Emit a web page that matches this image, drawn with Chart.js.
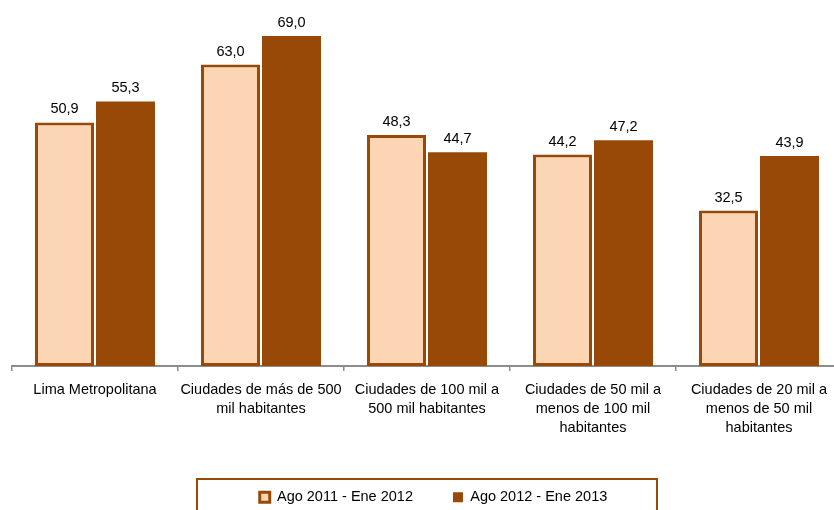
<!DOCTYPE html>
<html>
<head>
<meta charset="utf-8">
<script src="https://cdn.jsdelivr.net/npm/chart.js@4"></script>
<style>
html,body{margin:0;padding:0;background:#fff;overflow:hidden;width:834px;height:510px;}
#wrap{position:absolute;left:0;top:0;width:850px;height:540px;}
</style>
</head>
<body>
<div id="wrap"><canvas id="c" width="850" height="540"></canvas></div>
<script>
const categories = [
  "Lima Metropolitana",
  ["Ciudades de más de 500", "mil habitantes"],
  ["Ciudades de 100 mil a", "500 mil habitantes"],
  ["Ciudades de 50 mil a", "menos de 100 mil", "habitantes"],
  ["Ciudades de 20 mil a", "menos de 50 mil", "habitantes"]
];
const seriesNames = ["Ago 2011 - Ene 2012", "Ago 2012 - Ene 2013"];
const values2011 = [50.9, 63.0, 48.3, 44.2, 32.5];
const values2012 = [55.3, 69.0, 44.7, 47.2, 43.9];

const FONT = "'Liberation Sans', Arial, sans-serif";
const FSIZE = 14.5;
const BROWN = '#984807';
const PEACH = '#FCD5B5';
const AXIS = '#8c8c8c';

const dataLabels = {
  id: 'dataLabels',
  afterDatasetsDraw(chart) {
    const ctx = chart.ctx;
    ctx.save();
    ctx.font = FSIZE + "px " + FONT;
    ctx.fillStyle = '#000';
    ctx.textAlign = 'center';
    ctx.textBaseline = 'alphabetic';
    chart.data.datasets.forEach((ds, i) => {
      chart.getDatasetMeta(i).data.forEach((el, j) => {
        const txt = ds.data[j].toFixed(1).replace('.', ',');
        ctx.fillText(txt, el.x, el.y - 9);
      });
    });
    ctx.restore();
  }
};

const legendShift = {
  id: 'legendShift',
  afterLayout(chart) {
    const lg = chart.legend;
    if (!lg) return;
    lg.left += 6.5;
    lg.right += 6.5;
  }
};

const legendBorder = {
  id: 'legendBorder',
  afterDraw(chart) {
    const ctx = chart.ctx;
    ctx.save();
    ctx.strokeStyle = BROWN;
    ctx.lineWidth = 2;
    ctx.strokeRect(197, 479, 460, 60);
    ctx.restore();
  }
};

new Chart(document.getElementById('c'), {
  type: 'bar',
  data: {
    labels: categories,
    datasets: [
      {
        label: seriesNames[0],
        data: values2011,
        backgroundColor: PEACH,
        borderColor: BROWN,
        borderWidth: 3,
        borderSkipped: false,
        categoryPercentage: 0.735,
        barPercentage: 0.967
      },
      {
        label: seriesNames[1],
        data: values2012,
        backgroundColor: BROWN,
        borderColor: BROWN,
        borderWidth: 0,
        categoryPercentage: 0.735,
        barPercentage: 0.967
      }
    ]
  },
  options: {
    responsive: false,
    animation: false,
    devicePixelRatio: 1,
    layout: { padding: { left: 12, right: 8, top: 0, bottom: 25.5 } },
    plugins: {
      legend: {
        display: true,
        position: 'bottom',
        labels: {
          boxWidth: 10,
          boxHeight: 10,
          padding: 40,
          color: '#000',
          font: { family: FONT, size: FSIZE }
        }
      },
      tooltip: { enabled: false }
    },
    scales: {
      x: {
        offset: true,
        grid: {
          display: true,
          drawOnChartArea: false,
          drawTicks: true,
          tickLength: 5,
          color: AXIS,
          lineWidth: 1.5,
          offset: true
        },
        border: { display: true, color: AXIS, width: 2 },
        ticks: {
          color: '#000',
          padding: 9.5,
          maxRotation: 0,
          autoSkip: false,
          font: { family: FONT, size: FSIZE, lineHeight: 1.3 }
        },
        afterFit(scale) { scale.height = 84; }
      },
      y: {
        display: false,
        min: 0,
        max: 76.5
      }
    }
  },
  plugins: [dataLabels, legendShift, legendBorder]
});
</script>
</body>
</html>
